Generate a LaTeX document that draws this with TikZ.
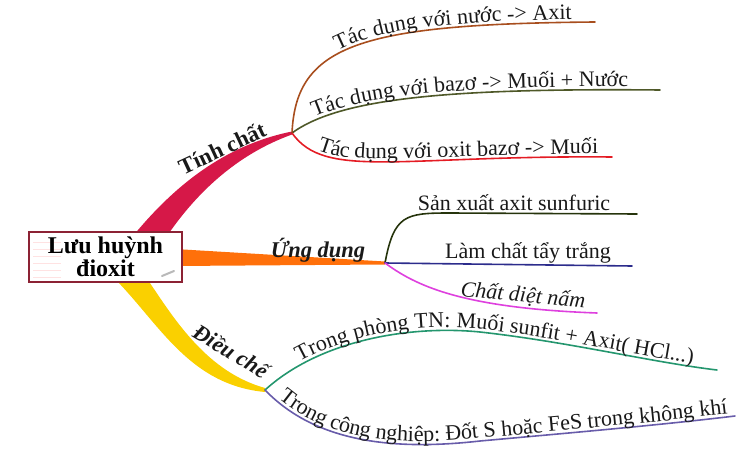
\documentclass[tikz,border=0pt]{standalone}
\usepackage{fontspec}
\setmainfont{Liberation Serif}
\usetikzlibrary{decorations.text}

% branch colours
\definecolor{tinhred}{RGB}{214,24,72}
\definecolor{ungorange}{RGB}{255,112,10}
\definecolor{dieuyellow}{RGB}{250,208,0}
\definecolor{nuocbrown}{RGB}{168,78,30}
\definecolor{bazoolive}{RGB}{78,88,40}
\definecolor{oxitred}{RGB}{228,28,36}
\definecolor{sxgreen}{RGB}{38,52,12}
\definecolor{taynavy}{RGB}{44,44,140}
\definecolor{dietpink}{RGB}{222,64,222}
\definecolor{tnteal}{RGB}{36,150,110}
\definecolor{cnpurple}{RGB}{104,92,170}
\definecolor{boxborder}{RGB}{140,34,52}

\newcommand{\leaffont}{\fontsize{22}{26}\selectfont}
\newcommand{\branchfont}{\fontsize{22.5}{26}\selectfont\bfseries}
\newcommand{\boxfont}{\fontsize{24}{21}\selectfont\bfseries}

\tikzset{
  leaf/.style={line width=1.6pt, line cap=round},
  leaftext/.style 2 args={postaction={decorate, decoration={text along path,
      raise=3pt, text align={left indent=#1}, text={|\leaffont\color{black!90}|#2}}}},
  leaflabel/.style={font=\leaffont, text=black!90, inner sep=0pt},
  branchlabel/.style={font=\branchfont, text=black!90, inner sep=0pt},
  mainbox/.style={draw=boxborder, line width=1.8pt, fill=white, align=center,
      font=\boxfont, minimum width=153pt, minimum height=50pt, inner sep=0pt,
      path picture={
        \foreach \k in {1,...,6}
          \draw[pink!45, line width=0.6pt] ([xshift=4pt, yshift=-(7*\k+3)*1pt]path picture bounding box.north west) -- ++(28pt,0);
        \draw[gray!55, line width=2pt, line cap=round] ([xshift=-20pt, yshift=6pt]path picture bounding box.south east) -- ++(12pt,5pt);
      }},
}

\begin{document}
\begin{tikzpicture}[x=1pt, y=-1pt]
    \useasboundingbox (0,0) rectangle (750,452);

    % hubs of the three main branches
    \coordinate (tinhchat) at (292,133);
    \coordinate (ungdung) at (385,263);
    \coordinate (dieuche) at (265,390);

    % free ends of the leaves
    \coordinate (nuoc) at (595,22);
    \coordinate (bazo) at (660,90);
    \coordinate (oxit) at (612,157);
    \coordinate (sanxuat) at (637,214);
    \coordinate (taytrang) at (632,266);
    \coordinate (dietnam) at (597,313);
    \coordinate (phongtn) at (717,370);
    \coordinate (congnghiep) at (735,416);

    % main branches, thick and tapering
    \fill[tinhred] (133,236) .. controls (175,185) and (225,145) .. ([yshift=1.5pt]tinhchat)
        -- ([yshift=-1.5pt]tinhchat) .. controls (235,155) and (195,195) .. (167,236) -- cycle;
    \fill[ungorange] (175,249) -- ([yshift=1.5pt]ungdung) -- ([yshift=-1.5pt]ungdung) -- (175,266) -- cycle;
    \fill[dieuyellow] (116,280) .. controls (160,325) and (190,385) .. ([yshift=-2pt]dieuche)
        -- ([yshift=2pt]dieuche) .. controls (208,372) and (176,322) .. (148,280) -- cycle;

    % central topic
    \node[mainbox] (luuhuynh) at (105.5,257) {Lưu huỳnh\\đioxit};

    % labels of the main branches
    \node[branchlabel, rotate=25] (tinhchatlbl) at (222,148) {Tính chất};
    \node[branchlabel, font=\branchfont\itshape] (ungdunglbl) at (318,250) {Ứng dụng};
    \node[branchlabel, font=\branchfont\itshape, rotate=-31] (dieuchelbl) at (231,351) {Điều chế};

    % Tinh chat
    \draw[leaf, nuocbrown, leaftext={98pt}{Tác dụng với nước -> Axit}]
        (tinhchat) .. controls (296,45) and (360,24) .. (nuoc);
    \draw[leaf, bazoolive, leaftext={27pt}{Tác dụng với bazơ -> Muối + Nước}]
        (tinhchat) .. controls (340,98) and (450,88) .. (bazo);
    \draw[leaf, oxitred, leaftext={32pt}{Tác dụng với oxit bazơ -> Muối}]
        (tinhchat) .. controls (325,180) and (400,155) .. (oxit);

    % Ung dung
    \draw[leaf, sxgreen] (ungdung) .. controls (394,215) and (405,213) .. (450,213) -- (sanxuat);
    \node[leaflabel, anchor=base] (sanxuatlbl) at (514,210) {Sản xuất axit sunfuric};
    \draw[leaf, taynavy] (ungdung) -- (taytrang);
    \node[leaflabel, anchor=base] (taytranglbl) at (528,258) {Làm chất tẩy trắng};
    \draw[leaf, dietpink] (ungdung) .. controls (415,285) and (460,308) .. (dietnam);
    \node[leaflabel, font=\leaffont\itshape, rotate=-5] (dietnamlbl) at (523,296) {Chất diệt nấm};

    % Dieu che
    \draw[leaf, tnteal, leaftext={44pt}{Trong phòng TN: Muối sunfit + Axit( HCl...)}]
        (dieuche) .. controls (320,340) and (410,325) .. (480,332)
        .. controls (570,342) and (650,362) .. (phongtn);
    \draw[leaf, cnpurple, leaftext={16pt}{Trong công nghiệp: Đốt S hoặc FeS trong không khí}]
        (dieuche) .. controls (318,445) and (400,450) .. (480,441)
        .. controls (580,432) and (660,425) .. (congnghiep);

\end{tikzpicture}
\end{document}
